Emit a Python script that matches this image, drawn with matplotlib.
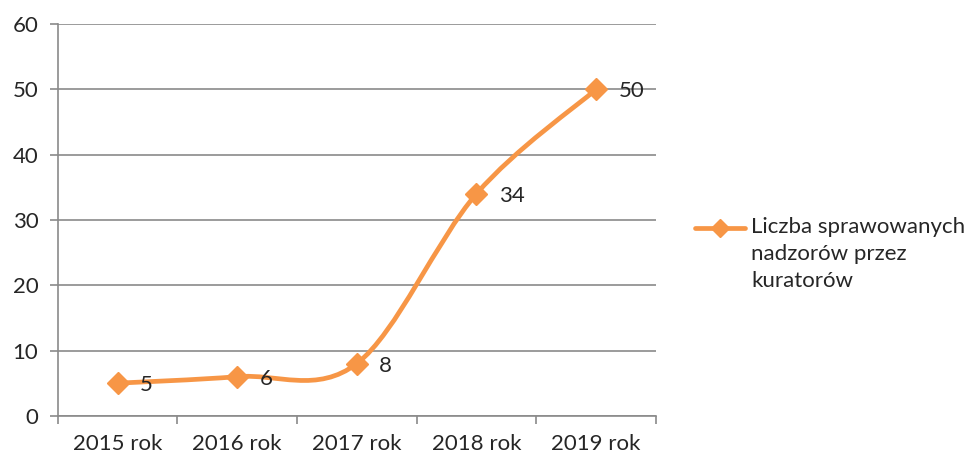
import numpy as np
import matplotlib
matplotlib.use("Agg")
import matplotlib.pyplot as plt
from matplotlib.path import Path
from matplotlib.patches import PathPatch
from matplotlib.lines import Line2D

plt.rcParams['font.family'] = ['Lato', 'DejaVu Sans']

years = ["2015 rok", "2016 rok", "2017 rok", "2018 rok", "2019 rok"]
values = [5, 6, 8, 34, 50]
series_name = "Liczba sprawowanych\nnadzorów przez\nkuratorów"

orange = '#F79646'
grid_c = '#8a8a8a'
text_c = '#262626'

fig = plt.figure(figsize=(9.79, 4.61), dpi=100)
ax = fig.add_axes([0.059, 0.098, 0.611, 0.850])

x = np.arange(len(values))
y = np.array(values, dtype=float)

# smoothed line like Excel: cubic bezier through the points (catmull-rom)
xp = np.concatenate([[x[0]], x, [x[-1]]])
yp = np.concatenate([[y[0]], y, [y[-1]]])
verts = [(x[0], y[0])]
codes = [Path.MOVETO]
for i in range(len(x) - 1):
    p0 = np.array([xp[i], yp[i]])
    p1 = np.array([xp[i + 1], yp[i + 1]])
    p2 = np.array([xp[i + 2], yp[i + 2]])
    p3 = np.array([xp[i + 3], yp[i + 3]])
    c1 = p1 + (p2 - p0) / 6.0
    c2 = p2 - (p3 - p1) / 6.0
    verts += [tuple(c1), tuple(c2), tuple(p2)]
    codes += [Path.CURVE4] * 3
ax.add_patch(PathPatch(Path(verts, codes), fc='none', ec=orange, lw=3.4,
                       capstyle='round', joinstyle='round', zorder=3))
ax.plot(x, y, ls='none', marker='D', ms=11, color=orange, zorder=4)

for xi, yi in zip(x, values):
    ax.annotate(str(yi), (xi, yi), xytext=(16, -1.5), textcoords='offset points',
                ha='left', va='center', fontsize=16, color=text_c, zorder=5)

ax.set_xlim(-0.5, len(values) - 0.5)
ax.set_ylim(0, 60)
ax.set_yticks(range(0, 61, 10))
ax.set_xticks(x)
ax.set_xticklabels(years)
ax.set_xticks(np.arange(-0.5, len(values), 1.0), minor=True)
ax.tick_params(axis='x', which='major', length=0, pad=13, labelsize=16, labelcolor=text_c)
ax.tick_params(axis='x', which='minor', length=6, width=1.2, color=grid_c)
ax.tick_params(axis='y', length=6, width=1.2, color=grid_c, pad=8, labelsize=16, labelcolor=text_c)
ax.grid(axis='y', color=grid_c, lw=1.2, zorder=1)
ax.set_axisbelow(True)
for s in ['top', 'right']:
    ax.spines[s].set_visible(False)
ax.spines['left'].set_color(grid_c)
ax.spines['left'].set_linewidth(1.2)
ax.spines['bottom'].set_color(grid_c)
ax.spines['bottom'].set_linewidth(1.2)

# legend drawn by hand so the key sits on the first text line
ly = 1 - 228 / 461
fig.add_artist(Line2D([695 / 979, 745 / 979], [ly, ly], color=orange, lw=3.4,
                      solid_capstyle='round', transform=fig.transFigure))
fig.add_artist(Line2D([720 / 979], [ly], color=orange, marker='D', ms=9,
                      transform=fig.transFigure))
fig.text(751 / 979, ly + 11 / 461, series_name, ha='left', va='top', fontsize=16,
         color=text_c, linespacing=1.45)

fig.savefig('out.png', dpi=100)
